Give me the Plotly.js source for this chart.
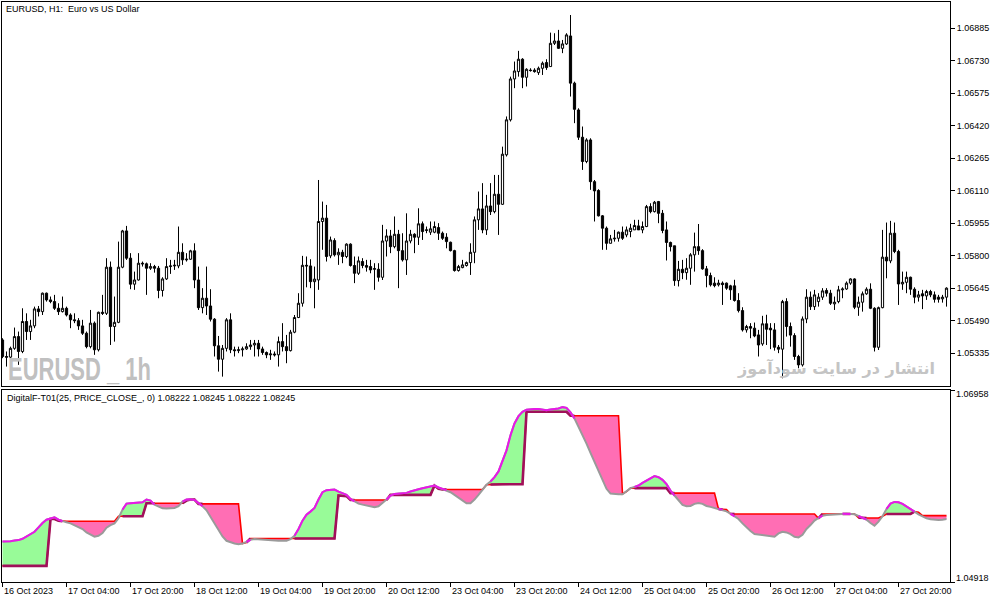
<!DOCTYPE html>
<html><head><meta charset="utf-8">
<script src="https://cdn.plot.ly/plotly-3.0.1.min.js"></script>
<style>html,body{margin:0;padding:0;background:#fff;}#chart{width:1003px;height:603px;}</style>
</head><body><div id="chart"></div>
<script>
const openP = [
1.05398,1.05319,1.05316,1.05358,1.05414,1.05343,1.05486,1.05438,1.05465,1.05546,
1.05533,1.05621,1.05589,1.05581,1.05549,1.05533,1.05549,1.05517,1.05494,1.05490,
1.05465,1.05430,1.05366,1.05478,1.05351,1.05530,1.05525,1.05745,1.05462,1.05482,
1.05745,1.05918,1.05788,1.05664,1.05684,1.05764,1.05761,1.05740,1.05748,1.05740,
1.05634,1.05689,1.05748,1.05751,1.05751,1.05816,1.05780,1.05783,1.05823,1.05684,
1.05552,1.05597,1.05560,1.05497,1.05370,1.05306,1.05358,1.05494,1.05351,1.05347,
1.05351,1.05355,1.05366,1.05374,1.05382,1.05355,1.05338,1.05327,1.05331,1.05327,
1.05390,1.05366,1.05347,1.05435,1.05505,1.05573,1.05754,1.05751,1.05676,1.05684,
1.05963,1.05979,1.05799,1.05872,1.05804,1.05816,1.05796,1.05855,1.05753,1.05716,
1.05772,1.05753,1.05748,1.05735,1.05735,1.05697,1.05870,1.05894,1.05843,1.05902,
1.05824,1.05780,1.05870,1.05902,1.05888,1.05952,1.05920,1.05912,1.05912,1.05934,
1.05907,1.05888,1.05864,1.05824,1.05729,1.05743,1.05753,1.05767,1.05816,1.05971,
1.06023,1.05923,1.06037,1.06010,1.06093,1.06045,1.06281,1.06448,1.06643,1.06678,
1.06737,1.06651,1.06685,1.06685,1.06673,1.06694,1.06721,1.06702,1.06813,1.06824,
1.06789,1.06810,1.06848,1.06623,1.06495,1.06365,1.06249,1.06352,1.06153,1.06111,
1.05990,1.05931,1.05859,1.05880,1.05883,1.05912,1.05899,1.05915,1.05923,1.05942,
1.05923,1.05939,1.06034,1.06010,1.06058,1.06002,1.05923,1.05863,1.05847,1.05681,
1.05735,1.05719,1.05740,1.05804,1.05843,1.05824,1.05737,1.05705,1.05669,1.05661,
1.05669,1.05669,1.05656,1.05656,1.05586,1.05538,1.05446,1.05462,1.05454,1.05422,
1.05379,1.05475,1.05454,1.05446,1.05363,1.05354,1.05581,1.05462,1.05419,1.05319,
1.05279,1.05498,1.05602,1.05557,1.05581,1.05602,1.05634,1.05621,1.05570,1.05581,
1.05637,1.05641,1.05669,1.05689,1.05554,1.05578,1.05618,1.05640,1.05549,1.05363,
1.05552,1.05793,1.05775,1.05907,1.05820,1.05665,1.05673,1.05697,1.05640,1.05602,
1.05618,1.05608,1.05629,1.05613,1.05602,1.05594,1.05602
];
const highP = [
1.05406,1.05343,1.05366,1.05457,1.05438,1.05549,1.05525,1.05494,1.05557,1.05560,
1.05624,1.05624,1.05605,1.05613,1.05573,1.05605,1.05557,1.05525,1.05525,1.05502,
1.05494,1.05438,1.05541,1.05486,1.05533,1.05613,1.05788,1.05772,1.05605,1.05867,
1.05923,1.05942,1.05812,1.05724,1.05812,1.05772,1.05767,1.05764,1.05756,1.05751,
1.05697,1.05788,1.05780,1.05780,1.05939,1.05859,1.05812,1.05828,1.05859,1.05748,
1.05645,1.05748,1.05640,1.05502,1.05417,1.05374,1.05502,1.05525,1.05366,1.05366,
1.05366,1.05382,1.05398,1.05398,1.05398,1.05366,1.05343,1.05351,1.05343,1.05414,
1.05478,1.05422,1.05446,1.05517,1.05621,1.05799,1.05796,1.05783,1.05748,1.06161,
1.06058,1.06042,1.05891,1.05883,1.05835,1.05828,1.05859,1.05859,1.05796,1.05796,
1.05788,1.05780,1.05780,1.05764,1.05764,1.05947,1.05926,1.05923,1.05987,1.05923,
1.05907,1.06002,1.05923,1.05907,1.06026,1.05963,1.05939,1.05963,1.05963,1.05955,
1.05915,1.05907,1.05867,1.05828,1.05756,1.05780,1.05772,1.05859,1.05987,1.06106,
1.06146,1.06090,1.06146,1.06185,1.06185,1.06320,1.06464,1.06654,1.06726,1.06777,
1.06742,1.06694,1.06694,1.06694,1.06702,1.06726,1.06737,1.06864,1.06861,1.06877,
1.06829,1.06861,1.06948,1.06630,1.06503,1.06416,1.06360,1.06360,1.06161,1.06117,
1.05994,1.05939,1.05899,1.05923,1.05915,1.05939,1.05939,1.05952,1.05971,1.05971,
1.05963,1.06042,1.06050,1.06061,1.06061,1.06018,1.05963,1.05867,1.05847,1.05775,
1.05780,1.05788,1.05812,1.05910,1.05951,1.05831,1.05751,1.05719,1.05697,1.05685,
1.05677,1.05672,1.05661,1.05685,1.05621,1.05554,1.05470,1.05478,1.05481,1.05446,
1.05513,1.05518,1.05478,1.05478,1.05374,1.05589,1.05597,1.05481,1.05430,1.05327,
1.05510,1.05640,1.05629,1.05637,1.05621,1.05645,1.05645,1.05637,1.05605,1.05656,
1.05649,1.05677,1.05692,1.05692,1.05605,1.05629,1.05649,1.05668,1.05554,1.05557,
1.05923,1.05958,1.05966,1.05958,1.05828,1.05724,1.05724,1.05700,1.05649,1.05632,
1.05637,1.05637,1.05637,1.05629,1.05613,1.05613,1.05649
];
const lowP = [
1.05311,1.05271,1.05306,1.05351,1.05279,1.05335,1.05398,1.05398,1.05454,1.05510,
1.05517,1.05581,1.05573,1.05541,1.05517,1.05529,1.05510,1.05454,1.05478,1.05446,
1.05422,1.05358,1.05358,1.05327,1.05343,1.05517,1.05517,1.05374,1.05390,1.05478,
1.05740,1.05780,1.05640,1.05637,1.05681,1.05748,1.05613,1.05732,1.05719,1.05597,
1.05605,1.05684,1.05713,1.05732,1.05740,1.05756,1.05772,1.05780,1.05645,1.05541,
1.05525,1.05517,1.05486,1.05319,1.05247,1.05223,1.05343,1.05335,1.05319,1.05335,
1.05319,1.05351,1.05351,1.05319,1.05319,1.05327,1.05311,1.05303,1.05319,1.05271,
1.05343,1.05287,1.05343,1.05430,1.05502,1.05557,1.05649,1.05645,1.05549,1.05637,
1.05828,1.05772,1.05788,1.05796,1.05756,1.05764,1.05788,1.05748,1.05669,1.05708,
1.05740,1.05724,1.05716,1.05637,1.05676,1.05684,1.05796,1.05812,1.05835,1.05645,
1.05772,1.05708,1.05859,1.05812,1.05851,1.05875,1.05907,1.05899,1.05907,1.05875,
1.05875,1.05835,1.05820,1.05724,1.05724,1.05740,1.05748,1.05708,1.05764,1.05923,
1.05907,1.05899,1.05994,1.06002,1.05899,1.06042,1.06273,1.06440,1.06599,1.06654,
1.06599,1.06607,1.06678,1.06673,1.06662,1.06662,1.06686,1.06702,1.06805,1.06786,
1.06766,1.06805,1.06559,1.06432,1.06352,1.06209,1.06241,1.06114,1.05963,1.05987,
1.05828,1.05828,1.05859,1.05867,1.05867,1.05875,1.05888,1.05888,1.05923,1.05923,
1.05907,1.05936,1.06002,1.06006,1.05955,1.05907,1.05777,1.05820,1.05656,1.05653,
1.05688,1.05685,1.05661,1.05724,1.05804,1.05733,1.05649,1.05653,1.05649,1.05653,
1.05565,1.05637,1.05589,1.05581,1.05529,1.05438,1.05433,1.05406,1.05411,1.05319,
1.05370,1.05374,1.05354,1.05347,1.05335,1.05215,1.05414,1.05366,1.05303,1.05263,
1.05271,1.05478,1.05541,1.05541,1.05557,1.05589,1.05605,1.05565,1.05541,1.05573,
1.05597,1.05637,1.05661,1.05545,1.05513,1.05533,1.05613,1.05545,1.05343,1.05350,
1.05549,1.05692,1.05764,1.05812,1.05565,1.05637,1.05621,1.05613,1.05573,1.05581,
1.05545,1.05589,1.05602,1.05576,1.05576,1.05576,1.05557
];
const closeP = [
1.05319,1.05316,1.05358,1.05414,1.05343,1.05486,1.05438,1.05465,1.05546,1.05533,
1.05621,1.05589,1.05581,1.05549,1.05533,1.05549,1.05517,1.05494,1.05490,1.05465,
1.05430,1.05366,1.05478,1.05351,1.05530,1.05525,1.05745,1.05462,1.05482,1.05745,
1.05918,1.05788,1.05664,1.05684,1.05764,1.05761,1.05740,1.05748,1.05740,1.05634,
1.05689,1.05748,1.05751,1.05754,1.05816,1.05780,1.05783,1.05823,1.05684,1.05552,
1.05597,1.05560,1.05497,1.05370,1.05306,1.05358,1.05494,1.05351,1.05347,1.05351,
1.05355,1.05366,1.05374,1.05382,1.05355,1.05338,1.05327,1.05331,1.05327,1.05390,
1.05366,1.05347,1.05435,1.05505,1.05573,1.05754,1.05751,1.05676,1.05688,1.05963,
1.05979,1.05796,1.05875,1.05804,1.05816,1.05796,1.05855,1.05753,1.05716,1.05775,
1.05753,1.05745,1.05732,1.05738,1.05697,1.05870,1.05894,1.05843,1.05902,1.05824,
1.05780,1.05870,1.05902,1.05888,1.05952,1.05915,1.05923,1.05928,1.05939,1.05907,
1.05883,1.05867,1.05824,1.05729,1.05748,1.05756,1.05767,1.05816,1.05971,1.06023,
1.05923,1.06037,1.06010,1.06093,1.06045,1.06284,1.06448,1.06643,1.06681,1.06737,
1.06651,1.06689,1.06683,1.06678,1.06694,1.06718,1.06697,1.06813,1.06824,1.06789,
1.06810,1.06853,1.06623,1.06498,1.06365,1.06249,1.06352,1.06153,1.06109,1.05990,
1.05931,1.05859,1.05880,1.05883,1.05912,1.05883,1.05923,1.05931,1.05944,1.05923,
1.05939,1.06034,1.06010,1.06055,1.06002,1.05920,1.05863,1.05843,1.05681,1.05735,
1.05719,1.05740,1.05804,1.05843,1.05824,1.05737,1.05705,1.05661,1.05657,1.05669,
1.05662,1.05645,1.05637,1.05586,1.05538,1.05446,1.05462,1.05454,1.05417,1.05374,
1.05475,1.05449,1.05446,1.05363,1.05354,1.05581,1.05462,1.05421,1.05319,1.05279,
1.05498,1.05602,1.05557,1.05613,1.05602,1.05632,1.05621,1.05573,1.05578,1.05637,
1.05641,1.05669,1.05689,1.05554,1.05578,1.05618,1.05640,1.05549,1.05363,1.05552,
1.05793,1.05775,1.05907,1.05820,1.05665,1.05673,1.05697,1.05640,1.05602,1.05613,
1.05608,1.05629,1.05613,1.05592,1.05592,1.05602,1.05645
];
// DigitalF-T01 indicator: fast digital filter line and stepped signal line
const filterLine = [
1.05349,1.05349,1.05352,1.05360,1.05363,1.05377,1.05402,1.05424,1.05452,1.05498,
1.05545,1.05580,1.05595,1.05605,1.05580,1.05563,1.05552,1.05541,1.05523,1.05506,
1.05481,1.05445,1.05420,1.05399,1.05409,1.05438,1.05495,1.05523,1.05541,1.05595,
1.05687,1.05751,1.05755,1.05758,1.05762,1.05765,1.05794,1.05783,1.05740,1.05723,
1.05701,1.05698,1.05698,1.05705,1.05723,1.05773,1.05794,1.05797,1.05790,1.05758,
1.05723,1.05680,1.05612,1.05552,1.05470,1.05402,1.05356,1.05338,1.05328,1.05320,
1.05328,1.05345,1.05367,1.05374,1.05370,1.05367,1.05363,1.05360,1.05356,1.05356,
1.05356,1.05356,1.05374,1.05409,1.05481,1.05570,1.05634,1.05666,1.05705,1.05794,
1.05872,1.05894,1.05901,1.05901,1.05879,1.05862,1.05844,1.05801,1.05773,1.05751,
1.05740,1.05730,1.05723,1.05712,1.05723,1.05755,1.05794,1.05837,1.05854,1.05858,
1.05862,1.05865,1.05879,1.05894,1.05904,1.05915,1.05926,1.05936,1.05943,1.05922,
1.05908,1.05894,1.05872,1.05844,1.05815,1.05783,1.05755,1.05755,1.05794,1.05844,
1.05901,1.05951,1.05986,1.06032,1.06093,1.06210,1.06317,1.06477,1.06602,1.06680,
1.06727,1.06748,1.06755,1.06755,1.06755,1.06748,1.06744,1.06752,1.06755,1.06762,
1.06776,1.06769,1.06720,1.06655,1.06566,1.06485,1.06388,1.06289,1.06193,1.06093,
1.05997,1.05908,1.05858,1.05851,1.05851,1.05851,1.05879,1.05915,1.05929,1.05943,
1.05972,1.05997,1.06025,1.06043,1.06032,1.06004,1.05958,1.05890,1.05837,1.05783,
1.05737,1.05723,1.05726,1.05748,1.05758,1.05748,1.05726,1.05716,1.05705,1.05698,
1.05687,1.05669,1.05644,1.05616,1.05587,1.05541,1.05498,1.05459,1.05427,1.05420,
1.05417,1.05413,1.05406,1.05399,1.05434,1.05452,1.05445,1.05427,1.05399,1.05392,
1.05420,1.05481,1.05523,1.05570,1.05598,1.05623,1.05630,1.05634,1.05637,1.05641,
1.05644,1.05644,1.05641,1.05637,1.05619,1.05602,1.05580,1.05545,1.05516,1.05559,
1.05616,1.05694,1.05751,1.05769,1.05765,1.05748,1.05723,1.05691,1.05666,1.05637,
1.05612,1.05595,1.05584,1.05577,1.05577,1.05580,1.05587
];
const signalLine = [
1.05089,1.05089,1.05089,1.05089,1.05089,1.05089,1.05089,1.05089,1.05089,1.05089,
1.05089,1.05089,1.05587,1.05587,1.05570,1.05563,1.05563,1.05563,1.05563,1.05563,
1.05563,1.05563,1.05563,1.05563,1.05563,1.05563,1.05563,1.05563,1.05563,1.05616,
1.05616,1.05616,1.05616,1.05616,1.05616,1.05616,1.05755,1.05755,1.05755,1.05755,
1.05755,1.05755,1.05755,1.05755,1.05755,1.05755,1.05783,1.05794,1.05794,1.05748,
1.05748,1.05748,1.05748,1.05748,1.05748,1.05748,1.05748,1.05748,1.05748,1.05748,
1.05328,1.05338,1.05381,1.05381,1.05381,1.05381,1.05381,1.05381,1.05381,1.05381,
1.05381,1.05381,1.05381,1.05381,1.05381,1.05381,1.05381,1.05381,1.05381,1.05381,
1.05381,1.05381,1.05381,1.05381,1.05837,1.05837,1.05830,1.05790,1.05790,1.05790,
1.05790,1.05790,1.05790,1.05790,1.05790,1.05790,1.05790,1.05844,1.05844,1.05844,
1.05844,1.05844,1.05844,1.05844,1.05844,1.05844,1.05844,1.05844,1.05943,1.05908,
1.05901,1.05901,1.05901,1.05901,1.05901,1.05901,1.05901,1.05901,1.05901,1.05901,
1.05901,1.05951,1.05954,1.05954,1.05954,1.05958,1.05958,1.05958,1.05958,1.05958,
1.05958,1.06727,1.06727,1.06727,1.06727,1.06727,1.06727,1.06727,1.06727,1.06727,
1.06727,1.06727,1.06684,1.06684,1.06684,1.06684,1.06684,1.06684,1.06684,1.06684,
1.06684,1.06684,1.06684,1.06684,1.06684,1.05854,1.05879,1.05915,1.05915,1.05915,
1.05915,1.05915,1.05915,1.05915,1.05915,1.05915,1.05915,1.05862,1.05862,1.05862,
1.05862,1.05862,1.05862,1.05862,1.05862,1.05862,1.05862,1.05862,1.05862,1.05694,
1.05687,1.05687,1.05641,1.05641,1.05641,1.05641,1.05641,1.05641,1.05641,1.05641,
1.05641,1.05641,1.05641,1.05641,1.05641,1.05641,1.05641,1.05641,1.05641,1.05641,
1.05641,1.05641,1.05641,1.05641,1.05595,1.05641,1.05641,1.05641,1.05641,1.05641,
1.05641,1.05641,1.05641,1.05641,1.05602,1.05598,1.05598,1.05598,1.05598,1.05598,
1.05616,1.05641,1.05641,1.05641,1.05641,1.05641,1.05641,1.05641,1.05666,1.05659,
1.05623,1.05623,1.05623,1.05623,1.05623,1.05623,1.05623
];
const priceTicks = [1.05335,1.05490,1.05645,1.05800,1.05955,1.06110,1.06265,1.06420,1.06575,1.06730,1.06885];
const subTicks = [1.04918, 1.06958];
const dateTickIdx = [0,16,32,48,64,80,96,112,128,144,160,176,192,208,224];
const dateTickLabels = ['16 Oct 2023','17 Oct 04:00','17 Oct 20:00','18 Oct 12:00','19 Oct 04:00','19 Oct 20:00','20 Oct 12:00','23 Oct 04:00','23 Oct 20:00','24 Oct 12:00','25 Oct 04:00','25 Oct 20:00','26 Oct 12:00','27 Oct 04:00','27 Oct 20:00'];
const chartTitle = 'EURUSD, H1:\u00a0\u00a0Euro vs US Dollar';
const indicatorTitle = 'DigitalF-T01(25, PRICE_CLOSE_, 0) 1.08222 1.08245 1.08222 1.08245';
const watermark1 = 'EURUSD _ 1h';
const watermark2 = 'انتشار در سایت سودآموز';

const bars = closeP.map((_, i) => i);
const upperG = filterLine.map((a, i) => Math.max(a, signalLine[i]));
const lowerP = filterLine.map((a, i) => Math.min(a, signalLine[i]));
const isUp = filterLine.map((a, i) => a > signalLine[i]);
const inc = i => isUp[i] || (i > 0 && isUp[i - 1]);
const filterUp = filterLine.map((a, i) => inc(i) ? a : null);
const signalDn = signalLine.map((b, i) => inc(i) ? b : null);

const FONT = 'Liberation Sans, Arial, sans-serif';
const sub = {xaxis: 'x2', yaxis: 'y2', hoverinfo: 'skip', showlegend: false};
const traces = [
  {type: 'candlestick', x: bars, open: openP, high: highP, low: lowP, close: closeP,
   xaxis: 'x', yaxis: 'y', whiskerwidth: 0, hoverinfo: 'skip',
   increasing: {line: {color: '#000', width: 1}, fillcolor: '#ffffff'},
   decreasing: {line: {color: '#000', width: 1}, fillcolor: '#000000'}},
  Object.assign({x: bars, y: signalLine, mode: 'lines', line: {width: 0, color: 'rgba(0,0,0,0)'}}, sub),
  Object.assign({x: bars, y: upperG, mode: 'lines', fill: 'tonexty', fillcolor: '#98FB98', line: {width: 0, color: 'rgba(0,0,0,0)'}}, sub),
  Object.assign({x: bars, y: signalLine, mode: 'lines', line: {width: 0, color: 'rgba(0,0,0,0)'}}, sub),
  Object.assign({x: bars, y: lowerP, mode: 'lines', fill: 'tonexty', fillcolor: '#FF6EB4', line: {width: 0, color: 'rgba(0,0,0,0)'}}, sub),
  Object.assign({x: bars, y: signalLine, mode: 'lines', line: {width: 1.6, color: '#FF0000'}}, sub),
  Object.assign({x: bars, y: signalDn, mode: 'lines', line: {width: 2.6, color: '#A0105A'}, connectgaps: false}, sub),
  Object.assign({x: bars, y: filterLine, mode: 'lines', line: {width: 2, color: '#9A9A9A'}}, sub),
  Object.assign({x: bars, y: filterUp, mode: 'lines', line: {width: 2, color: '#E818E8'}, connectgaps: false}, sub)
];

const xr = [-0.125, 236.875];
const annotations = [];
dateTickIdx.forEach((idx, k) => annotations.push({
  x: idx, xref: 'x2', y: -0.0155, yref: 'paper', text: dateTickLabels[k], showarrow: false,
  xanchor: 'left', yanchor: 'middle', xshift: -1, font: {family: FONT, size: 9, color: '#000'}
}));
subTicks.forEach((v, k) => annotations.push({
  x: 1, xref: 'paper', y: v, yref: 'y2', text: v.toFixed(5), showarrow: false,
  xanchor: 'left', yanchor: 'middle', xshift: 4, yshift: k === 0 ? 4 : -4,
  font: {family: FONT, size: 9, color: '#000'}
}));
annotations.push({x: 0.002, xref: 'paper', y: 0.988, yref: 'paper', text: chartTitle, showarrow: false,
  xanchor: 'left', yanchor: 'middle', font: {family: FONT, size: 9, color: '#000'}});
annotations.push({x: 0.003, xref: 'paper', y: 0.3172, yref: 'paper', text: indicatorTitle, showarrow: false,
  xanchor: 'left', yanchor: 'middle', font: {family: FONT, size: 9, color: '#000'}});
const wmIndex = annotations.length;
annotations.push({x: 0.004, xref: 'paper', y: 0.367, yref: 'paper', text: '<b>' + watermark1 + '</b>', showarrow: false,
  xanchor: 'left', yanchor: 'middle', font: {family: 'Liberation Sans, Arial', size: 32, color: '#C0C0C0'}});
annotations.push({x: 0.986, xref: 'paper', y: 0.369, yref: 'paper', text: '<b>' + watermark2 + '</b>', showarrow: false,
  xanchor: 'right', yanchor: 'middle', font: {family: 'DejaVu Sans, Noto Sans', size: 16, color: '#C4C4C4'}});

const axLine = {showgrid: false, zeroline: false, showline: true, mirror: true, linecolor: '#000', linewidth: 1, fixedrange: true};
const layout = {
  width: 1003, height: 603,
  margin: {l: 2, r: 53, t: 2, b: 21, pad: 0},
  paper_bgcolor: '#ffffff', plot_bgcolor: '#ffffff',
  showlegend: false, hovermode: false, dragmode: false,
  boxgap: 0.45, boxgroupgap: 0,
  font: {family: FONT, size: 9, color: '#000'},
  xaxis: Object.assign({domain: [0, 1], anchor: 'y', range: xr, type: 'linear', ticks: '', showticklabels: false,
    rangeslider: {visible: false}}, axLine),
  xaxis2: Object.assign({domain: [0, 1], anchor: 'y2', range: xr, type: 'linear', ticks: 'outside', ticklen: 4,
    tickcolor: '#000', tickwidth: 1, tickmode: 'array', tickvals: dateTickIdx, showticklabels: false}, axLine),
  yaxis: Object.assign({domain: [0.3371, 1], anchor: 'x', side: 'right', range: [1.05176, 1.07010],
    ticks: 'outside', ticklen: 4, tickcolor: '#000', tickwidth: 1, tickmode: 'array', tickvals: priceTicks,
    tickformat: '.5f', tickfont: {family: FONT, size: 9, color: '#000'}}, axLine),
  yaxis2: Object.assign({domain: [0, 0.331], anchor: 'x2', side: 'right', range: [1.04918, 1.06958],
    ticks: 'outside', ticklen: 4, tickcolor: '#000', tickwidth: 1, tickmode: 'array', tickvals: subTicks,
    showticklabels: false}, axLine),
  annotations: annotations
};
Plotly.newPlot('chart', traces, layout, {staticPlot: true, displayModeBar: false}).then(gd => {
  // condense the watermark horizontally like the terminal's narrow label font
  const t = gd.querySelector('.annotation[data-index="' + wmIndex + '"] .annotation-text');
  if (t) {
    const bb = t.getBBox();
    const sx = 143 / bb.width;
    const prev = t.getAttribute('transform') || '';
    t.setAttribute('transform', (prev + ' matrix(' + sx + ',0,0,1,' + (bb.x * (1 - sx)) + ',0)').trim());
  }
});
</script>
</body></html>
